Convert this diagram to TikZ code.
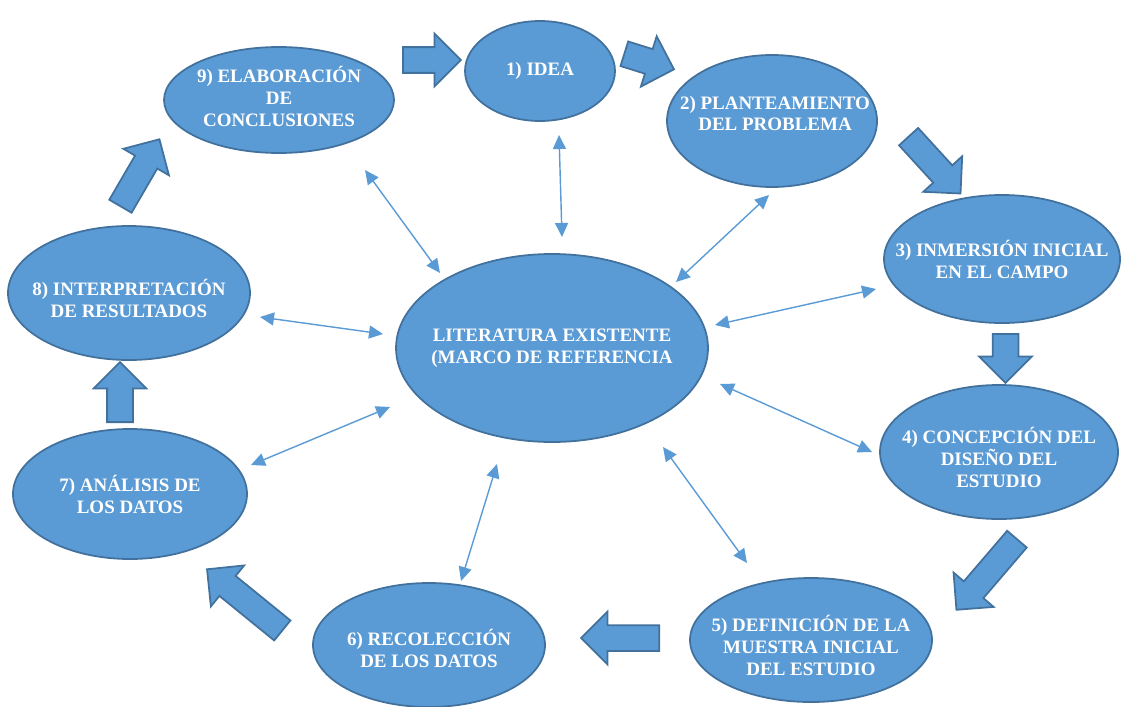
\documentclass[tikz,border=0pt]{standalone}
\usepackage{fontspec}
\setmainfont{Liberation Serif}
\usetikzlibrary{shapes.geometric,shapes.arrows,arrows.meta}
\definecolor{azul}{HTML}{5B9BD5}
\definecolor{azulborde}{HTML}{41719C}
\tikzset{
	fase/.style={ellipse, draw=azulborde, fill=azul, line width=1pt, inner sep=0pt},
	rotulo/.style={text=white, align=center, inner sep=0pt, font=\bfseries\fontsize{10.8}{12.5}\selectfont},
	flecha/.style={single arrow, draw=azulborde, fill=azul, line width=1pt,
		inner sep=0.24cm, single arrow head extend=0.27cm, minimum height=0.02cm*#1, anchor=tail},
	enlace/.style={{Triangle[length=0.28cm,width=0.26cm]}-{Triangle[length=0.28cm,width=0.26cm]}, draw=azul, line width=0.8pt}
}
\begin{document}
\begin{tikzpicture}[x=0.02cm,y=-0.02cm]
				%\draw[step=50,help lines] (0,0) grid (1121,706);
\useasboundingbox (0,0) rectangle (1121,706);
% ellipses of the cycle
				\node[fase, minimum width=0.02cm*150, minimum height=0.02cm*100,
					label={[rotulo]center:1) IDEA}] (n1) at (540,71) {};
				\node[fase, minimum width=0.02cm*210, minimum height=0.02cm*132,
					label={[rotulo, yshift=0.15cm, xshift=0.06cm]center:2) PLANTEAMIENTO\\DEL PROBLEMA}] (n2) at (772,121) {};
				\node[fase, minimum width=0.02cm*236, minimum height=0.02cm*128,
					label={[rotulo]center:3) INMERSIÓN INICIAL\\EN EL CAMPO}] (n3) at (1002,259) {};
				\node[fase, minimum width=0.02cm*238, minimum height=0.02cm*134,
					label={[rotulo, yshift=-0.1cm]center:4) CONCEPCIÓN DEL\\DISEÑO DEL\\ESTUDIO}] (n4) at (999,452) {};
				\node[fase, minimum width=0.02cm*242, minimum height=0.02cm*124,
					label={[rotulo, yshift=-0.1cm]center:5) DEFINICIÓN DE LA\\MUESTRA INICIAL\\DEL ESTUDIO}] (n5) at (811,640) {};
				\node[fase, minimum width=0.02cm*232, minimum height=0.02cm*124,
					label={[rotulo, yshift=-0.06cm]center:6) RECOLECCIÓN\\DE LOS DATOS}] (n6) at (429,645) {};
				\node[fase, minimum width=0.02cm*234, minimum height=0.02cm*130,
					label={[rotulo]center:7) ANÁLISIS DE\\LOS DATOS}] (n7) at (130,494) {};
				\node[fase, minimum width=0.02cm*242, minimum height=0.02cm*134,
					label={[rotulo, yshift=-0.1cm]center:8) INTERPRETACIÓN\\DE RESULTADOS}] (n8) at (129,293) {};
				\node[fase, minimum width=0.02cm*230, minimum height=0.02cm*106,
					label={[rotulo, yshift=0.08cm]center:9) ELABORACIÓN\\DE\\CONCLUSIONES}] (n9) at (279,100) {};
% centre
				\node[fase, minimum width=0.02cm*312, minimum height=0.02cm*188,
					label={[rotulo]center:LITERATURA EXISTENTE\\(MARCO DE REFERENCIA}] (lit) at (552,348) {};
% block arrows between the steps
				\node[flecha=58, rotate=0] (a91) at (402,60) {};
				\node[flecha=52, rotate=-17.4] (a12) at (623.5,53.5) {};
				\node[flecha=77, rotate=-47.6] (a23) at (908,136) {};
				\node[flecha=49, rotate=-90] (a34) at (1005.5,333) {};
				\node[flecha=93, rotate=-130.6] (a45) at (1017.5,538.5) {};
				\node[flecha=78, rotate=180] (a56) at (660,638) {};
				\node[flecha=97, rotate=140.9] (a67) at (283,631) {};
				\node[flecha=60, rotate=90] (a78) at (120,423) {};
				\node[flecha=77.5, rotate=59.8] (a89) at (120,207) {};
% thin arrows to the literature
				\foreach \n/\ax/\ay/\bx/\by in {9/365/170/440/273, 1/559/135/562/237, 2/769/195/676/282,
					3/876/289/715/325, 4/872/452/720/384, 5/747/563/663/447,
					6/461/581/497/464, 7/251/465/390/407, 8/260/317/383/334}{
				\coordinate (e\n) at (\ax,\ay);
				\coordinate (l\n) at (\bx,\by);
				\draw[enlace] (e\n) -- (l\n);
				}
\end{tikzpicture}
\end{document}
